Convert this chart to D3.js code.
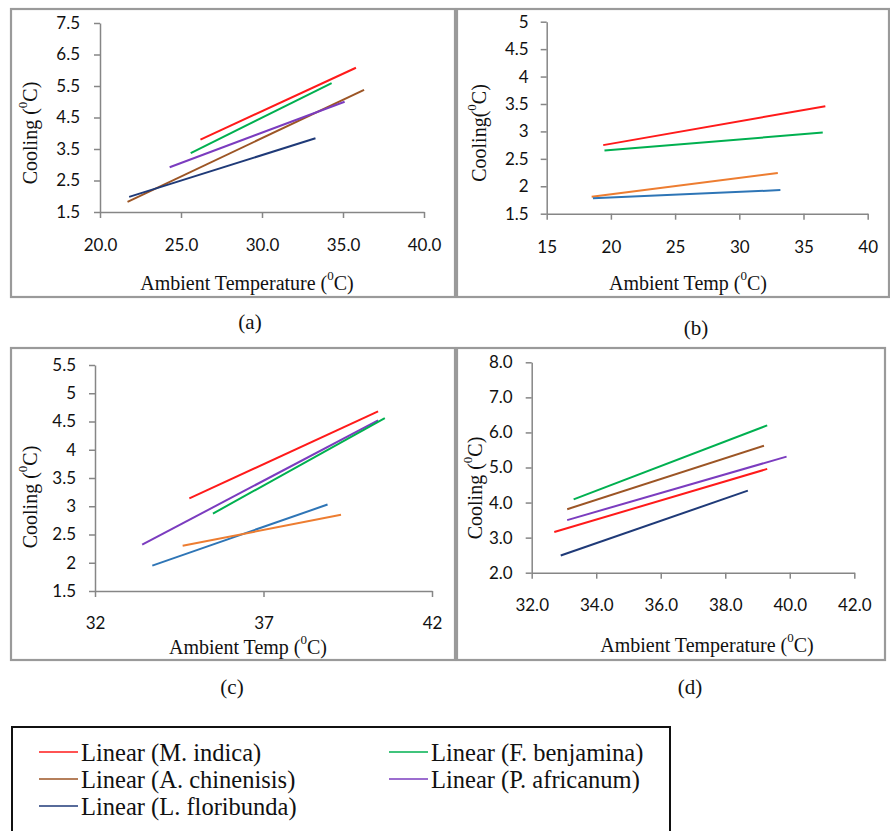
<!DOCTYPE html>
<html>
<head>
<meta charset="utf-8">
<script src="https://cdnjs.cloudflare.com/ajax/libs/d3/7.8.5/d3.min.js"></script>
<style>
  body { margin: 0; background: #fff; }
  svg { display: block; }
  .tick text { font-family: Lato, "Open Sans", sans-serif; font-size: 17px; fill: #111; }
</style>
</head>
<body>
<div id="chart"></div>
<script>
// series: [name, x start, y start, x end, y end]
const seriesA = [
  ["M. indica", 26.2, 3.8, 35.8, 6.08],
  ["F. benjamina", 25.6, 3.37, 34.3, 5.59],
  ["A. chinenisis", 21.7, 1.82, 36.3, 5.38],
  ["P. africanum", 24.3, 2.92, 35.1, 5.0],
  ["L. floribunda", 21.8, 1.98, 33.3, 3.84]
];
const seriesB = [
  ["M. indica", 19.4, 2.75, 36.7, 3.46],
  ["F. benjamina", 19.5, 2.65, 36.5, 2.98],
  ["A. chinenisis", 18.5, 1.81, 33.0, 2.24],
  ["L. floribunda", 18.6, 1.78, 33.2, 1.93]
];
const seriesC = [
  ["M. indica", 34.8, 3.14, 40.4, 4.68],
  ["P. africanum", 33.4, 2.32, 40.4, 4.52],
  ["F. benjamina", 35.5, 2.87, 40.6, 4.56],
  ["L. floribunda", 33.7, 1.95, 38.9, 3.03],
  ["A. chinenisis", 34.6, 2.3, 39.3, 2.85]
];
const seriesD = [
  ["F. benjamina", 33.3, 4.09, 39.3, 6.2],
  ["A. chinenisis", 33.1, 3.81, 39.2, 5.62],
  ["P. africanum", 33.1, 3.5, 39.9, 5.31],
  ["M. indica", 32.7, 3.16, 39.3, 4.96],
  ["L. floribunda", 32.9, 2.49, 38.7, 4.34]
];

const ticksA = { x: [20, 25, 30, 35, 40], y: [1.5, 2.5, 3.5, 4.5, 5.5, 6.5, 7.5] };
const ticksB = { x: [15, 20, 25, 30, 35, 40], y: [1.5, 2, 2.5, 3, 3.5, 4, 4.5, 5] };
const ticksC = { x: [32, 37, 42], y: [1.5, 2, 2.5, 3, 3.5, 4, 4.5, 5, 5.5] };
const ticksD = { x: [32, 34, 36, 38, 40, 42], y: [2, 3, 4, 5, 6, 7, 8] };

const legendNames = ["M. indica", "F. benjamina", "A. chinenisis", "P. africanum", "L. floribunda"];

// colours (b and c use the lighter orange / blue)
const colorsDark = { "M. indica": "#ff1a1a", "F. benjamina": "#00b050", "A. chinenisis": "#9c5525",
                     "P. africanum": "#7b3cbf", "L. floribunda": "#1f3a78" };
const colorsLight = { "M. indica": "#ff1a1a", "F. benjamina": "#00b050", "A. chinenisis": "#ed7d31",
                      "P. africanum": "#7b3cbf", "L. floribunda": "#2e75b6" };

const SERIF = "'Liberation Serif', 'Times New Roman', 'DejaVu Serif', serif";
const W = 890, H = 831;
const svg = d3.select("#chart").append("svg").attr("width", W).attr("height", H);
svg.append("rect").attr("width", W).attr("height", H).attr("fill", "#fff");

const panels = [
  { box: [11, 9, 455, 297], xr: [100, 424], yr: [212, 23], xd: [20, 40], yd: [1.5, 7.5], ticks: ticksA,
    fx: d3.format(".1f"), fy: d3.format(".1f"), data: seriesA, colors: colorsDark,
    xt: "Ambient Temperature (", xtPos: [247, 283], yt: "Cooling (", ytPos: [30, 133],
    cap: "(a)", capPos: [250, 322], yPad: 14, xPad: 21 },
  { box: [457, 9, 889, 297], xr: [546.7, 867.7], yr: [213.7, 21.7], xd: [15, 40], yd: [1.5, 5], ticks: ticksB,
    fx: d3.format("d"), fy: d3.format(""), data: seriesB, colors: colorsLight,
    xt: "Ambient Temp (", xtPos: [688, 283], yt: "Cooling(", ytPos: [479, 133],
    cap: "(b)", capPos: [696, 328], yPad: 12, xPad: 21 },
  { box: [11, 348, 455, 660], xr: [95, 432], yr: [591, 365], xd: [32, 42], yd: [1.5, 5.5], ticks: ticksC,
    fx: d3.format("d"), fy: d3.format(""), data: seriesC, colors: colorsLight,
    xt: "Ambient Temp (", xtPos: [248, 647], yt: "Cooling (", ytPos: [30, 497],
    cap: "(c)", capPos: [232, 687], yPad: 13, xPad: 20 },
  { box: [457, 348, 885, 660], xr: [531.7, 854.3], yr: [572.7, 362.3], xd: [32, 42], yd: [2, 8], ticks: ticksD,
    fx: d3.format(".1f"), fy: d3.format(".1f"), data: seriesD, colors: colorsDark,
    xt: "Ambient Temperature (", xtPos: [707, 645], yt: "Cooling (", ytPos: [475, 488],
    cap: "(d)", capPos: [690, 687], yPad: 13, xPad: 20 }
];

// title with superscript 0
function degText(sel, pre) {
  sel.append("tspan").text(pre);
  sel.append("tspan").attr("font-size", 13).attr("baseline-shift", "super").text("0");
  sel.append("tspan").text("C)");
}

function serifText(parent, size) {
  return parent.append("text")
    .attr("font-family", SERIF).attr("font-size", size).attr("fill", "#111")
    .style("font-family", SERIF);
}

panels.forEach(p => {
  const g = svg.append("g");
  g.append("rect")
    .attr("x", p.box[0]).attr("y", p.box[1])
    .attr("width", p.box[2] - p.box[0]).attr("height", p.box[3] - p.box[1])
    .attr("fill", "none").attr("stroke", "#9a9a9a").attr("stroke-width", 2.2);

  const x = d3.scaleLinear().domain(p.xd).range(p.xr);
  const y = d3.scaleLinear().domain(p.yd).range(p.yr);

  const xAxis = g.append("g").attr("transform", `translate(0,${p.yr[0]})`)
    .call(d3.axisBottom(x).tickValues(p.ticks.x).tickFormat(p.fx).tickSize(6).tickPadding(p.xPad).tickSizeOuter(0));
  const yAxis = g.append("g").attr("transform", `translate(${p.xr[0]},0)`)
    .call(d3.axisLeft(y).tickValues(p.ticks.y).tickFormat(p.fy).tickSize(6).tickPadding(p.yPad).tickSizeOuter(0));
  [xAxis, yAxis].forEach(a => {
    a.select(".domain").attr("stroke", "#868686").attr("stroke-width", 1.5);
    a.selectAll(".tick line").attr("stroke", "#868686").attr("stroke-width", 1.5);
  });

  const line = d3.line().x(d => x(d[0])).y(d => y(d[1]));
  g.selectAll("path.trend").data(p.data).enter().append("path")
    .attr("class", "trend")
    .attr("d", d => line([[d[1], d[2]], [d[3], d[4]]]))
    .attr("fill", "none")
    .attr("stroke", d => p.colors[d[0]])
    .attr("stroke-width", 2);

  serifText(g, 20)
    .attr("text-anchor", "middle").attr("dominant-baseline", "central")
    .attr("x", p.xtPos[0]).attr("y", p.xtPos[1])
    .call(degText, p.xt);

  serifText(g, 20)
    .attr("text-anchor", "middle").attr("dominant-baseline", "central")
    .attr("transform", `translate(${p.ytPos[0]},${p.ytPos[1]}) rotate(-90)`)
    .call(degText, p.yt);

  serifText(g, 21)
    .attr("text-anchor", "middle").attr("dominant-baseline", "central")
    .attr("x", p.capPos[0]).attr("y", p.capPos[1])
    .text(p.cap);
});

// legend
const leg = svg.append("g");
leg.append("rect").attr("x", 12).attr("y", 727).attr("width", 658).attr("height", 140)
  .attr("fill", "#fff").attr("stroke", "#111").attr("stroke-width", 2);

const legCol = [39, 389], legRow = [752, 779, 806];
legendNames.forEach((n, i) => {
  const lx = legCol[i % 2], ly = legRow[Math.floor(i / 2)];
  leg.append("line").attr("x1", lx).attr("x2", lx + 39).attr("y1", ly).attr("y2", ly)
    .attr("stroke", colorsDark[n]).attr("stroke-width", 1.5);
  serifText(leg, 24.5)
    .attr("x", lx + 42).attr("y", ly).attr("dominant-baseline", "central")
    .text("Linear (" + n + ")");
});
</script>
</body>
</html>
